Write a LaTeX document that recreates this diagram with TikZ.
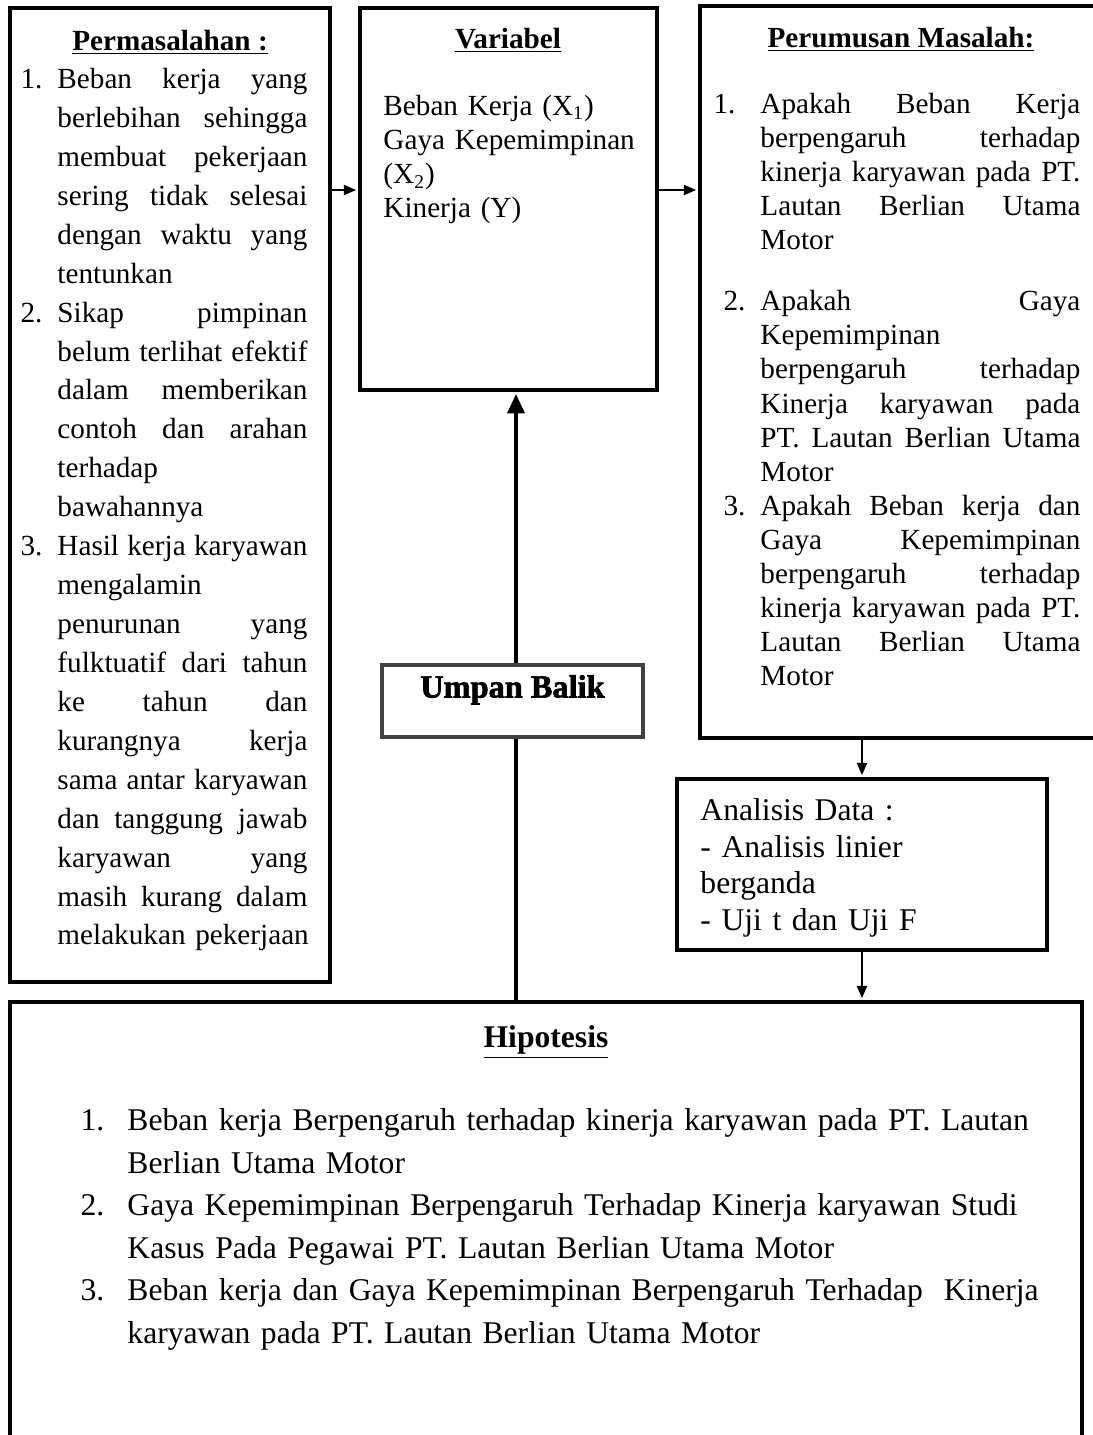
\documentclass[tikz,border=0pt]{standalone}
\usepackage{fontspec}
\setmainfont{Liberation Serif}
\newfontfamily\heavyfont{Liberation Serif}[BoldFeatures={FakeBold=2}]
\usetikzlibrary{arrows.meta, fit}

% justified line, plain line and hanging item number
\newlength\colw
\newcommand\jline[1]{\leavevmode\hbox to \colw{\spaceskip=0.25em plus 1fil\relax #1}}
\newcommand\pline[1]{\mbox{#1}}
\newcommand\lnum[2]{\leavevmode\llap{\makebox[#1][l]{#2}}}

\tikzset{
  % Set arrowhead
  >={Triangle[length=5pt, width=4.2pt]},
  % framed boxes
  panel/.style={draw, line width=1.65pt, inner sep=0pt, fill=white},
  % gray feedback box
  fbpanel/.style={panel, draw=black!75},
  % text blocks inside the frames
  txt/.style={inner sep=0pt, anchor=north west, align=left,
    text width=#1, execute at begin node={\global\colw=#1\relax}},
  ttl/.style={inner sep=0pt, anchor=base, font=\fontsize{12}{14}\selectfont\bfseries},
  bigttl/.style={ttl, font=\fontsize{13}{15}\selectfont\bfseries},
  % connectors
  link/.style={->, line width=0.6pt, shorten >=0.8pt},
  fback/.style={-{Triangle[length=8pt, width=7pt]}, line width=1.65pt, shorten >=0.8pt},
}

\begin{document}
\begin{tikzpicture}[x=0.411pt, y=-0.411pt]
  \path[use as bounding box] (0,0) rectangle (1093,1435);
  \clip (0,0) rectangle (1093,1435);

  % frames
  \node[panel, fit={(10,8) (330,982)}] (masalah) {};
  \node[panel, fit={(360,8) (657,390)}] (variabel) {};
  \node[panel, fit={(700,6) (1110,738)}] (rumusan) {};
  \node[panel, fit={(677,779) (1047,950)}] (analisis) {};
  \node[panel, fit={(10,1002) (1082,1460)}] (hipotesis) {};

  % feedback line behind the gray box
  \coordinate (fb) at (516,0);
  \draw[fback] (hipotesis.north -| fb) -- (variabel.south -| fb);
  \node[fbpanel, fit={(382,665) (643,737)},
    font=\fontsize{13.3}{15}\selectfont\heavyfont\bfseries] (umpan) {Umpan Balik};

  % connectors
  \coordinate (row) at (0,190);
  \draw[link] (masalah.east |- row) -- (variabel.west |- row);
  \draw[link] (variabel.east |- row) -- (rumusan.west |- row);
  \draw[link] (analisis.north |- rumusan.south) -- (analisis.north);
  \draw[link, line width=0.8pt] (analisis.south) -- (analisis.south |- hipotesis.north);

  % Permasalahan
  \node[ttl] (masalahttl) at (170,50) {\underline{Permasalahan :}};
  \node[txt=102.75pt, font=\fontsize{12}{16}\selectfont] (masalahtxt) at (57,60.75) {%
    \strut\lnum{15.2pt}{1.}\jline{Beban kerja yang}\\
    \jline{berlebihan sehingga}\\
    \jline{membuat pekerjaan}\\
    \jline{sering tidak selesai}\\
    \jline{dengan waktu yang}\\
    \pline{tentunkan}\\
    \lnum{15.2pt}{2.}\jline{Sikap pimpinan}\\
    \jline{belum terlihat efektif}\\
    \jline{dalam memberikan}\\
    \jline{contoh dan arahan}\\
    \pline{terhadap}\\
    \pline{bawahannya}\\
    \lnum{15.2pt}{3.}\jline{Hasil kerja karyawan}\\
    \pline{mengalamin}\\
    \jline{penurunan yang}\\
    \jline{fulktuatif dari tahun}\\
    \jline{ke tahun dan}\\
    \jline{kurangnya kerja}\\
    \jline{sama antar karyawan}\\
    \jline{dan tanggung jawab}\\
    \jline{karyawan yang}\\
    \jline{masih kurang dalam}\\
    \pline{melakukan pekerjaan}};

  % Variabel
  \node[ttl] (variabelttl) at (508,48) {\underline{Variabel}};
  \node[txt=110pt, font=\fontsize{12}{14}\selectfont] (variabeltxt) at (383,91.2) {%
    \strut Beban Kerja (X\textsubscript{1})\\
    Gaya Kepemimpinan\\
    (X\textsubscript{2})\\
    Kinerja (Y)};

  % Perumusan Masalah
  \node[ttl] (rumusanttl) at (901,47) {\underline{Perumusan Masalah:}};
  \node[txt=131.5pt, font=\fontsize{12}{14}\selectfont] (rumusantxt) at (760,89.2) {%
    \strut\lnum{19.3pt}{1.}\jline{Apakah Beban Kerja}\\
    \jline{berpengaruh terhadap}\\
    \jline{kinerja karyawan pada PT.}\\
    \jline{Lautan Berlian Utama}\\
    \pline{Motor}\\[11.1pt]
    \lnum{15.2pt}{2.}\jline{Apakah Gaya}\\
    \pline{Kepemimpinan}\\
    \jline{berpengaruh terhadap}\\
    \jline{Kinerja karyawan pada}\\
    \jline{PT. Lautan Berlian Utama}\\
    \pline{Motor}\\
    \lnum{15.2pt}{3.}\jline{Apakah Beban kerja dan}\\
    \jline{Gaya Kepemimpinan}\\
    \jline{berpengaruh terhadap}\\
    \jline{kinerja karyawan pada PT.}\\
    \jline{Lautan Berlian Utama}\\
    \pline{Motor}};

  % Analisis Data
  \node[txt=150pt, font=\fontsize{13}{15.1}\selectfont] (analisistxt) at (700,794.3) {%
    \strut Analisis Data :\\
    - Analisis linier\\
    berganda\\
    - Uji t dan Uji F};

  % Hipotesis
  \node[bigttl] (hipotesisttl) at (546,1047) {\underline{Hipotesis}};
  \node[txt=400pt, font=\fontsize{13}{17.5}\selectfont] (hipotesistxt) at (127,1100.2) {%
    \strut\lnum{19.3pt}{1.}\pline{Beban kerja Berpengaruh terhadap kinerja karyawan pada PT. Lautan}\\
    \pline{Berlian Utama Motor}\\
    \lnum{19.3pt}{2.}\pline{Gaya Kepemimpinan Berpengaruh Terhadap Kinerja karyawan Studi}\\
    \pline{Kasus Pada Pegawai PT. Lautan Berlian Utama Motor}\\
    \lnum{19.3pt}{3.}\pline{Beban kerja dan Gaya Kepemimpinan Berpengaruh Terhadap\ \ Kinerja}\\
    \pline{karyawan pada PT. Lautan Berlian Utama Motor}};
\end{tikzpicture}
\end{document}
